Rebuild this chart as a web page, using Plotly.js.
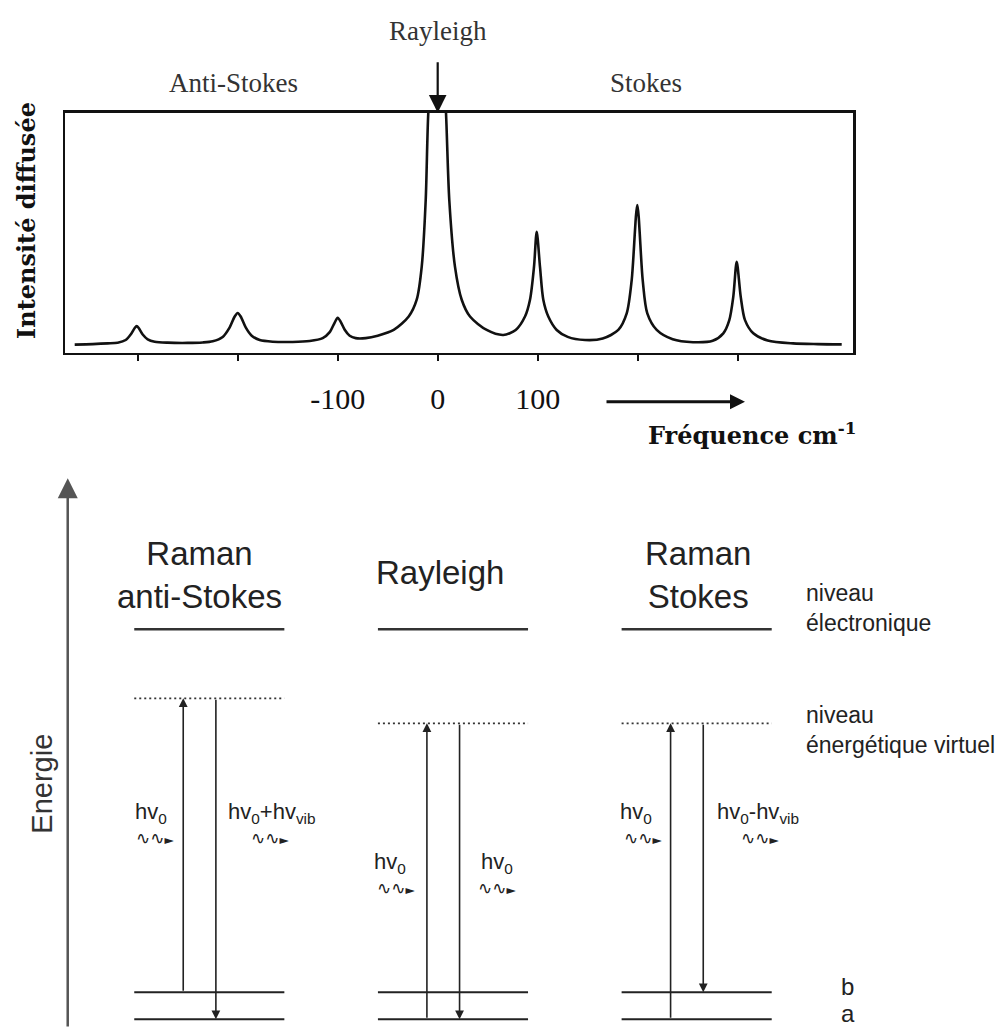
<!DOCTYPE html>
<html><head><meta charset="utf-8">
<script src="https://cdn.plot.ly/plotly-3.0.1.min.js"></script>
<style>html,body{margin:0;padding:0;background:#fff}</style>
</head><body><div id="chart" style="width:1007px;height:1028px"></div>
<script>
// ---------- DATA ----------
// Raman spectrum (frequency shift in cm-1, scattered intensity in % of frame height)
const frequency = [-363,-345,-330,-320,-312,-307,-303,-301,-299,-295,-290,-283,-270,-250,-235,-225,-215,-208,-203,-200,-197,-192,-186,-178,-165,-145,-128,-115,-108,-103,-100,-97,-93,-88,-82,-72,-60,-44,-29,-21,-16,-12,-9.4,-5,0,5,8.3,11.6,17.3,24,32.3,49,65.6,78,87.3,92.3,96.3,99,102.3,105.6,110.6,119,130,147.3,165,180.6,189,194,199.6,205,209.6,219,235,255.3,275,285.6,291.6,295.6,299,303,307.3,315.6,330,355.3,380,404];
const intensity = [3.3,3.5,3.8,4.1,5.2,7.5,10.2,11.0,10.2,7.5,5.5,4.5,4.1,4.0,4.2,4.7,6.5,10.5,15.0,16.5,15.0,10.5,7.0,5.2,4.5,4.4,4.8,6.0,8.5,12.5,14.5,12.8,9.5,7.0,6.0,6.0,7.0,9.4,15,22,35.7,63.5,100,125,135,125,100,63.5,35.7,22,15,9.4,7.3,9.4,15,22,35.7,50.3,35.7,22,15,9.4,6.5,5.2,5.8,9.4,16.3,30.2,61.5,30.2,16.3,9.4,5.5,4.3,4.9,8,13.5,23.3,37.8,23.3,13.5,8,5.0,3.8,3.5,3.4];
const tickValues = [-300,-200,-100,0,100,200,300];
const tickLabels = ['','','-100','0','100','',''];

// Energy diagram (energy in arbitrary units, level a = 0)
const processNames = ['Raman<br>anti-Stokes','Rayleigh','Raman<br>Stokes'];
const levelA = [0,0,0];
const levelB = [27,27,27];
const electronicLevel = [390,390,390];
const virtualLevel = [321,296,296];
const absorptionFrom = [27,0,0];
const emissionTo = [0,0,27];
const incidentPhoton = ['hv<sub>0</sub>','hv<sub>0</sub>','hv<sub>0</sub>'];
const scatteredPhoton = ['hv<sub>0</sub>+hv<sub>vib</sub>','hv<sub>0</sub>','hv<sub>0</sub>-hv<sub>vib</sub>'];
const levelNames = ['niveau<br>électronique','niveau<br>énergétique virtuel'];

// ---------- LAYOUT HELPERS ----------
const W = 1007, H = 1028;
const X = p => p / W;
const Y = p => 1 - p / H;
const HW = 0.308;          // half width of a level line (x2 units)
const UPX = -0.107, DNX = 0.027;
const serif = 'Liberation Serif', sans = 'Liberation Sans', wide = 'DejaVu Serif';

function levelTrace(vals, color, width, dash) {
  const xs = [], ys = [];
  vals.forEach((v, i) => { xs.push(i - HW, i + HW, null); ys.push(v, v, null); });
  return {x: xs, y: ys, xaxis: 'x2', yaxis: 'y2', mode: 'lines', hoverinfo: 'skip',
          line: {color: color, width: width, dash: dash || 'solid'}};
}

const traces = [
  {x: frequency, y: intensity, mode: 'lines', line: {color: '#111', width: 2.6, shape: 'spline', smoothing: 0.8}, hoverinfo: 'skip'},
  levelTrace(levelA, '#222', 2),
  levelTrace(levelB, '#222', 2),
  levelTrace(electronicLevel, '#333', 2.6),
  levelTrace(virtualLevel, '#333', 1.8, '2px,3px')
];

const ann = [];
function txt(o) { ann.push(Object.assign({showarrow: false, xanchor: 'center', yanchor: 'middle'}, o)); }
const topFont = {family: serif, size: 27, color: '#333'};
txt({xref: 'paper', yref: 'paper', x: X(437.5), y: Y(31), text: 'Rayleigh', font: topFont});
txt({xref: 'paper', yref: 'paper', x: X(233), y: Y(83), text: 'Anti-Stokes', font: topFont});
txt({xref: 'paper', yref: 'paper', x: X(646), y: Y(83), text: 'Stokes', font: topFont});
ann.push({xref: 'x', yref: 'y', x: 0, y: 100, ax: 0, ay: -52, text: '', showarrow: true,
          arrowhead: 2, arrowsize: 1.6, arrowwidth: 2.2, arrowcolor: '#111', standoff: 0});
ann.push({xref: 'paper', yref: 'paper', x: X(745), y: Y(401.7), ax: -140, ay: 0, text: '', showarrow: true,
          arrowhead: 2, arrowsize: 1.0, arrowwidth: 3, arrowcolor: '#111', standoff: 0});
txt({xref: 'paper', yref: 'paper', x: X(646), xanchor: 'left', y: Y(434), text: '<b>Fréquence cm<sup>-1</sup></b>',
     font: {family: wide, size: 24, color: '#111'}});
txt({xref: 'paper', yref: 'paper', x: X(26), y: Y(221), text: '<b>Intensité diffusée</b>', textangle: -90,
     font: {family: wide, size: 24, color: '#111'}});

// energy axis
ann.push({xref: 'x2', yref: 'y2', x: -0.581, y: 541, axref: 'x2', ayref: 'y2', ax: -0.581, ay: -8.7, text: '',
          showarrow: true, arrowhead: 2, arrowsize: 1.6, arrowwidth: 2.5, arrowcolor: '#555', standoff: 0});
txt({xref: 'paper', yref: 'paper', x: X(41.7), y: Y(784), text: 'Energie', textangle: -90,
     font: {family: sans, size: 29, color: '#333'}});

// column titles
const headX = [199, 440, 698];
processNames.forEach((t, i) => {
  txt({xref: 'paper', yref: 'paper', x: X(headX[i]), y: Y(i === 1 ? 572 : 575), text: t,
       font: {family: sans, size: 33, color: '#222'}});
});

// transitions
const labelY = [206, 156, 206];
const inShift = [-14, -19, -17], outShift = [10, 19, 12];
const inWave = [-27.5, -30, -27], outWave = [55, 38, 57];
const smallFont = {family: sans, size: 22, color: '#222'};
const waveFont = {family: 'DejaVu Sans', size: 12, color: '#222'};
const waveText = '<span style="font-size:17px">∿∿</span>►';
processNames.forEach((t, i) => {
  ann.push({xref: 'x2', yref: 'y2', x: i + UPX, y: virtualLevel[i], axref: 'x2', ayref: 'y2', ax: i + UPX, ay: absorptionFrom[i],
            text: '', showarrow: true, arrowhead: 2, arrowsize: 1.1, arrowwidth: 1.6, arrowcolor: '#222', standoff: 0});
  ann.push({xref: 'x2', yref: 'y2', x: i + DNX, y: emissionTo[i], axref: 'x2', ayref: 'y2', ax: i + DNX, ay: virtualLevel[i],
            text: '', showarrow: true, arrowhead: 2, arrowsize: 1.1, arrowwidth: 1.6, arrowcolor: '#222', standoff: 0});
  txt({xref: 'x2', yref: 'y2', x: i + UPX, y: labelY[i], xanchor: 'right', xshift: inShift[i], text: incidentPhoton[i], font: smallFont});
  txt({xref: 'x2', yref: 'y2', x: i + DNX, y: labelY[i], xanchor: 'left', xshift: outShift[i], text: scatteredPhoton[i], font: smallFont});
  txt({xref: 'x2', yref: 'y2', x: i + UPX, y: labelY[i] - 25, xshift: inWave[i], text: waveText, font: waveFont});
  txt({xref: 'x2', yref: 'y2', x: i + DNX, y: labelY[i] - 25, xshift: outWave[i], text: waveText, font: waveFont});
});

// level names
const sideFont = {family: sans, size: 23, color: '#222'};
txt({xref: 'paper', yref: 'paper', x: X(804), xanchor: 'left', y: Y(608), text: levelNames[0], align: 'left', font: sideFont});
txt({xref: 'paper', yref: 'paper', x: X(804), xanchor: 'left', y: Y(730), text: levelNames[1], align: 'left', font: sideFont});
txt({xref: 'x2', yref: 'y2', x: 2 + HW, xshift: 76, y: levelB[2] + 6, text: 'b', font: {family: sans, size: 24, color: '#222'}});
txt({xref: 'x2', yref: 'y2', x: 2 + HW, xshift: 76, y: levelA[2] + 6, text: 'a', font: {family: sans, size: 24, color: '#222'}});

const layout = {
  width: W, height: H, margin: {l: 0, r: 0, t: 0, b: 0},
  paper_bgcolor: '#fff', plot_bgcolor: '#fff', showlegend: false,
  xaxis: {domain: [X(65), X(853)], range: [-372.7, 415.3], showline: true, mirror: true, linewidth: 2.5, linecolor: '#111',
          ticks: 'outside', ticklen: 6, tickwidth: 2, tickcolor: '#111', tickvals: tickValues, ticktext: tickLabels,
          showgrid: false, zeroline: false, fixedrange: true, ticklabelstandoff: 12,
          tickfont: {family: serif, size: 30, color: '#111'}},
  yaxis: {domain: [Y(352.5), Y(112.7)], range: [0, 100], showline: true, mirror: true, linewidth: 2.5, linecolor: '#111',
          ticks: '', showticklabels: false, showgrid: false, zeroline: false, fixedrange: true},
  xaxis2: {domain: [0, 1], range: [-0.8589, 3.2735], visible: false, anchor: 'y2', fixedrange: true},
  yaxis2: {domain: [0, Y(470)], range: [-8.7, 549.3], visible: false, anchor: 'x2', fixedrange: true},
  annotations: ann
};

Plotly.newPlot('chart', traces, layout, {staticPlot: true, displayModeBar: false});
</script>
</body></html>
